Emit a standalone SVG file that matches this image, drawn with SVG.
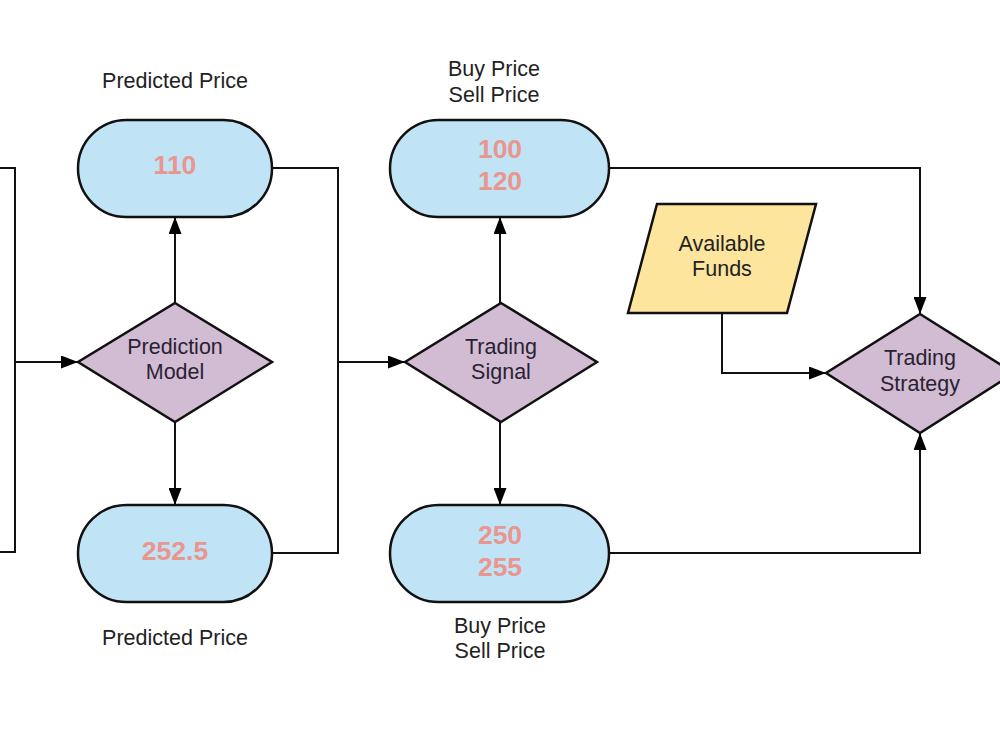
<svg xmlns="http://www.w3.org/2000/svg" width="1000" height="750" viewBox="0 0 1000 750">
<defs>
<marker id="arr" viewBox="0 0 17 13" refX="17" refY="6.5" markerWidth="17" markerHeight="13" markerUnits="userSpaceOnUse" orient="auto">
<path d="M0,0 L17,6.5 L0,13 Z" fill="#000"/>
</marker>
<style>
.term{fill:#c1e3f6;stroke:#111;stroke-width:2.5}
.dia{fill:#d2bcd4;stroke:#111;stroke-width:2.5}
.io{fill:#fde59d;stroke:#111;stroke-width:2.5}
.ln{fill:none;stroke:#111;stroke-width:2}
.num{font-family:"Liberation Sans",Arial,sans-serif;font-weight:bold;font-size:26.5px;fill:#e9968e;text-anchor:middle}
.lbl{font-family:"Liberation Sans",Arial,sans-serif;font-size:21.5px;fill:#222;text-anchor:middle}
.dt{font-family:"Liberation Sans",Arial,sans-serif;font-size:21.5px;fill:#2a2232;text-anchor:middle}
</style>
</defs>
<rect width="1000" height="750" fill="#fff"/>
<g id="connectors">
<path class="ln" d="M0,168 H15 V552 H0"/>
<path class="ln" d="M15,362 H78" marker-end="url(#arr)"/>
<path class="ln" d="M175,303 V217" marker-end="url(#arr)"/>
<path class="ln" d="M175,422 V505" marker-end="url(#arr)"/>
<path class="ln" d="M272,168 H338 V553 H272"/>
<path class="ln" d="M338,362 H405" marker-end="url(#arr)"/>
<path class="ln" d="M500,303 V217" marker-end="url(#arr)"/>
<path class="ln" d="M500,422 V505" marker-end="url(#arr)"/>
<path class="ln" d="M609,168 H920 V314" marker-end="url(#arr)"/>
<path class="ln" d="M609,553 H920 V433" marker-end="url(#arr)"/>
<path class="ln" d="M722,313 V373 H826" marker-end="url(#arr)"/>
</g>
<g id="pred-top">
<rect class="term" x="78" y="120" width="194" height="97" rx="48.5"/>
<text class="num" x="175" y="174">110</text>
<text class="lbl" x="175" y="88">Predicted Price</text>
</g>
<g id="pred-bottom">
<rect class="term" x="78" y="505" width="194" height="97" rx="48.5"/>
<text class="num" x="175" y="560">252.5</text>
<text class="lbl" x="175" y="645">Predicted Price</text>
</g>
<g id="prediction-model">
<polygon class="dia" points="175,303 272,362 175,422 78,362"/>
<text class="dt" x="175" y="354">Prediction</text>
<text class="dt" x="175" y="379">Model</text>
</g>
<g id="signal-top">
<rect class="term" x="390" y="120" width="219" height="97" rx="48.5"/>
<text class="num" x="500" y="158">100</text>
<text class="num" x="500" y="190">120</text>
<text class="lbl" x="494" y="76">Buy Price</text>
<text class="lbl" x="494" y="102">Sell Price</text>
</g>
<g id="signal-bottom">
<rect class="term" x="390" y="505" width="219" height="97" rx="48.5"/>
<text class="num" x="500" y="544">250</text>
<text class="num" x="500" y="576">255</text>
<text class="lbl" x="500" y="633">Buy Price</text>
<text class="lbl" x="500" y="658">Sell Price</text>
</g>
<g id="trading-signal">
<polygon class="dia" points="501,303 597,362 501,422 405,362"/>
<text class="dt" x="501" y="354">Trading</text>
<text class="dt" x="501" y="379">Signal</text>
</g>
<g id="available-funds">
<polygon class="io" points="657,204 816,204 787,313 628,313"/>
<text class="lbl" x="722" y="251">Available</text>
<text class="lbl" x="722" y="276">Funds</text>
</g>
<g id="trading-strategy">
<polygon class="dia" points="920,314 1014,373 920,433 826,373"/>
<text class="dt" x="920" y="365">Trading</text>
<text class="dt" x="920" y="391">Strategy</text>
</g>
</svg>
